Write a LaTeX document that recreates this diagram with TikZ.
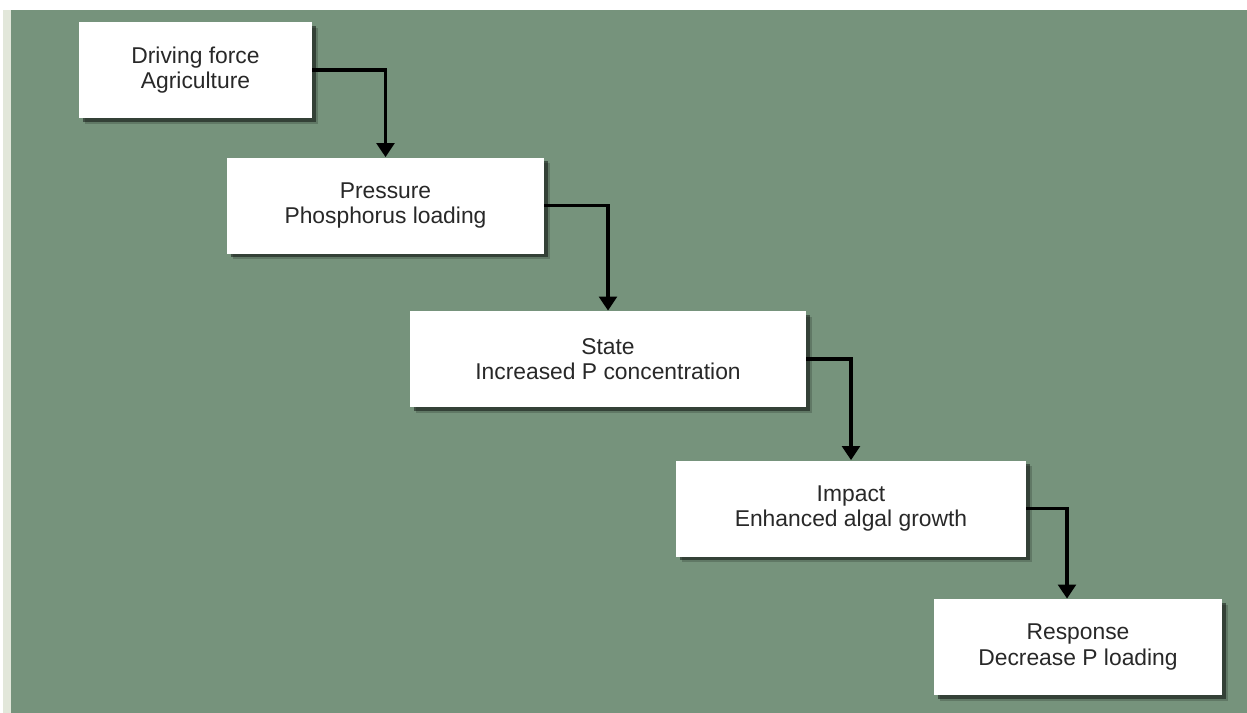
\documentclass[tikz,border=0pt]{standalone}
\usepackage{fontspec}
\setmainfont{Liberation Sans}
\usetikzlibrary{arrows.meta,shadows}

\definecolor{bggreen}{RGB}{118,147,124}
\definecolor{edgegrey}{RGB}{226,231,218}
\definecolor{textgrey}{RGB}{40,40,40}

\tikzset{
  dpsir/.style={fill=white, align=center, text=textgrey,
    minimum height=1.92cm, inner sep=2pt,
    font=\fontsize{13}{14.4}\selectfont,
    drop shadow={shadow xshift=0.11cm, shadow yshift=-0.11cm, fill=black, opacity=0.18},
    drop shadow={shadow xshift=0.07cm, shadow yshift=-0.07cm, fill=black, opacity=0.45}},
  link/.style={line width=2.2pt, -{Triangle[width=10pt,length=8pt]}}
}

\begin{document}
\begin{tikzpicture}
\useasboundingbox (0,0) rectangle (24.94,-14.26);
\fill[white] (0,0) rectangle (24.94,-14.26);
\fill[edgegrey] (0.06,-0.2) rectangle (0.22,-14.26);
\fill[bggreen] (0.22,-0.2) rectangle (24.94,-14.26);

\node (driver) [dpsir, minimum width=4.66cm] at (3.91,-1.40) {Driving force\\Agriculture};
\node (pressure) [dpsir, minimum width=6.34cm] at (7.71,-4.11) {Pressure\\Phosphorus loading};
\node (state) [dpsir, minimum width=7.92cm] at (12.16,-7.18) {State\\Increased P concentration};
\node (impact) [dpsir, minimum width=7.00cm] at (17.02,-10.17) {Impact\\Enhanced algal growth};
\node (response) [dpsir, minimum width=5.76cm] at (21.56,-12.94) {Response\\Decrease P loading};

\draw [link] (driver.east) -| (pressure.north);
\draw [link] (pressure.east) -| (state.north);
\draw [link] (state.east) -| (impact.north);
\draw [link] (impact.east) -| ([xshift=-0.22cm]response.north);
\end{tikzpicture}
\end{document}
